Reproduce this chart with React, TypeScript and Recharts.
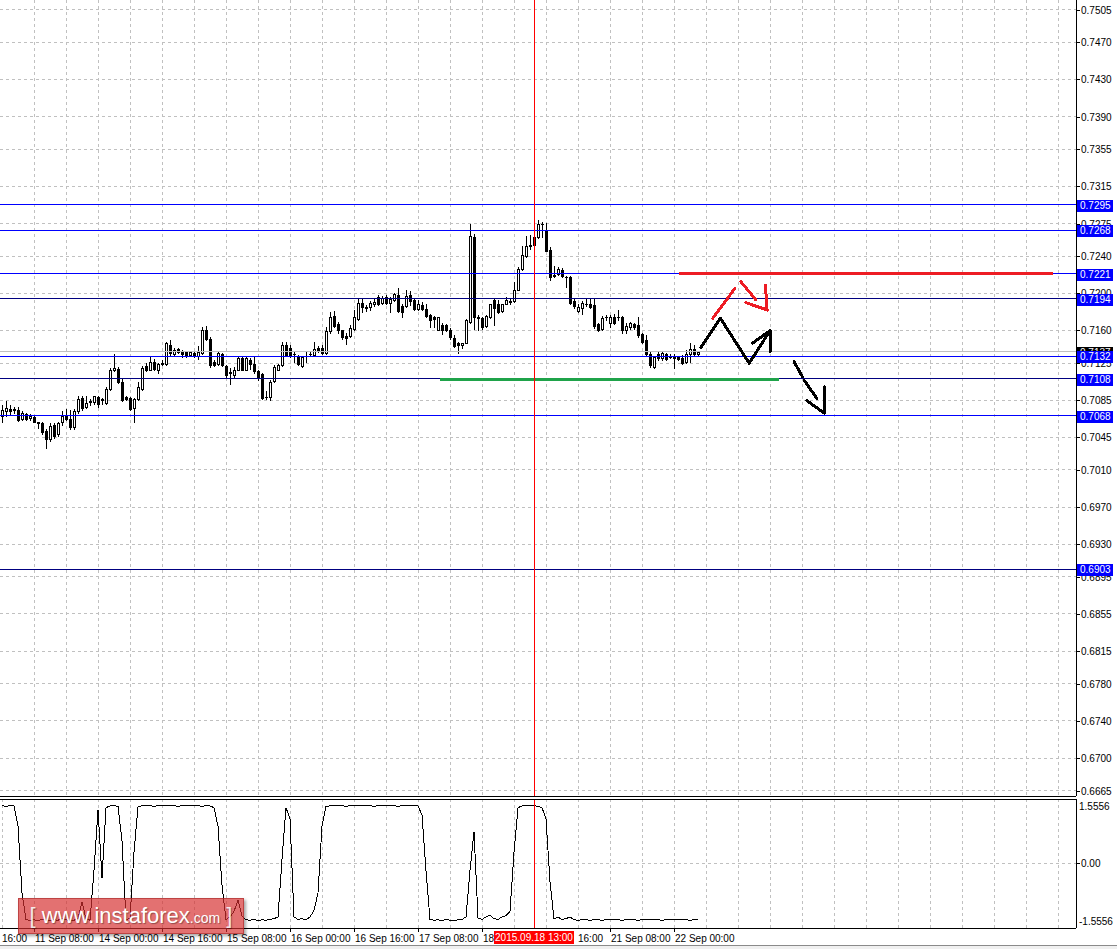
import React from "react";
import { ComposedChart, Bar, Line, XAxis, YAxis, CartesianGrid, ReferenceLine } from "recharts";

const FONT = "Liberation Sans, Arial, sans-serif";

// H1 bars, one per hour, first bar = 10 Sep 23:00 .. last = 22 Sep 06:00
const opens = [
  0.7068, 0.7073, 0.7076, 0.7075, 0.7074, 0.7065, 0.7070, 0.7066, 0.7067, 0.7061,
  0.7060, 0.7052, 0.7043, 0.7058, 0.7049, 0.7061, 0.7069, 0.7065, 0.7056, 0.7073,
  0.7087, 0.7078, 0.7083, 0.7083, 0.7088, 0.7085, 0.7082, 0.7097, 0.7117, 0.7119,
  0.7105, 0.7088, 0.7087, 0.7077, 0.7086, 0.7097, 0.7122, 0.7118, 0.7126, 0.7118,
  0.7124, 0.7124, 0.7144, 0.7135, 0.7140,
  0.7137, 0.7137, 0.7134, 0.7136, 0.7132,
  0.7136, 0.7160, 0.7151, 0.7126, 0.7124, 0.7135, 0.7122, 0.7115, 0.7112, 0.7118,
  0.7130, 0.7118, 0.7128, 0.7124, 0.7116, 0.7113, 0.7088, 0.7088, 0.7106, 0.7118,
  0.7123, 0.7144, 0.7141, 0.7135, 0.7132, 0.7122, 0.7132, 0.7135, 0.7134, 0.7141,
  0.7141, 0.7136, 0.7159, 0.7176, 0.7167, 0.7160, 0.7154, 0.7154,
  0.7162, 0.7172, 0.7190, 0.7185, 0.7185, 0.7188, 0.7196, 0.7190, 0.7196, 0.7190, 0.7193, 0.7198,
  0.7186, 0.7186, 0.7198, 0.7193, 0.7183, 0.7187, 0.7183, 0.7177, 0.7174, 0.7161,
  0.7166, 0.7166, 0.7161, 0.7152, 0.7146, 0.7144, 0.7147, 0.7169, 0.7261, 0.7175,
  0.7173, 0.7165, 0.7175, 0.7193, 0.7188, 0.7181, 0.7189, 0.7191, 0.7192, 0.7204, 0.7226, 0.7240,
  0.7251, 0.7252, 0.7261, 0.7274, 0.7268, 0.7247, 0.7220, 0.7221, 0.7225, 0.7218,
  0.7218, 0.7192, 0.7181, 0.7184, 0.7189, 0.7188, 0.7187, 0.7167,
  0.7162, 0.7174, 0.7168, 0.7175, 0.7174, 0.7175, 0.7161, 0.7164, 0.7167, 0.7166,
  0.7156, 0.7150, 0.7135, 0.7121, 0.7135, 0.7130, 0.7135, 0.7132, 0.7131, 0.7132,
  0.7130, 0.7126, 0.7135, 0.7140, 0.7135,
];
const highs = [
  0.7080, 0.7084, 0.7080, 0.7078, 0.7078, 0.7073, 0.7071, 0.7070, 0.7069, 0.7062,
  0.7062, 0.7054, 0.7060, 0.7060, 0.7062, 0.7073, 0.7075, 0.7074, 0.7075, 0.7090,
  0.7090, 0.7089, 0.7086, 0.7090, 0.7090, 0.7087, 0.7099, 0.7120, 0.7135, 0.7121,
  0.7108, 0.7089, 0.7088, 0.7087, 0.7105, 0.7122, 0.7125, 0.7132, 0.7129, 0.7125,
  0.7128, 0.7148, 0.7150, 0.7141, 0.7141,
  0.7139, 0.7138, 0.7138, 0.7138, 0.7143,
  0.7164, 0.7165, 0.7153, 0.7128, 0.7137, 0.7136, 0.7123, 0.7120, 0.7121, 0.7132,
  0.7132, 0.7132, 0.7130, 0.7132, 0.7118, 0.7114, 0.7095, 0.7107, 0.7123, 0.7124,
  0.7148, 0.7148, 0.7144, 0.7137, 0.7134, 0.7132, 0.7138, 0.7137, 0.7148, 0.7143,
  0.7144, 0.7164, 0.7180, 0.7181, 0.7169, 0.7161, 0.7157, 0.7166,
  0.7182, 0.7194, 0.7194, 0.7187, 0.7192, 0.7194, 0.7198, 0.7197, 0.7198, 0.7196, 0.7200, 0.7206,
  0.7189, 0.7203, 0.7202, 0.7194, 0.7193, 0.7191, 0.7188, 0.7178, 0.7176, 0.7175,
  0.7168, 0.7167, 0.7163, 0.7155, 0.7148, 0.7147, 0.7172, 0.7275, 0.7264, 0.7177,
  0.7175, 0.7177, 0.7189, 0.7194, 0.7193, 0.7189, 0.7196, 0.7194, 0.7212, 0.7228, 0.7251, 0.7262,
  0.7263, 0.7263, 0.7279, 0.7277, 0.7276, 0.7250, 0.7229, 0.7228, 0.7227, 0.7219,
  0.7219, 0.7194, 0.7188, 0.7192, 0.7195, 0.7195, 0.7195, 0.7168,
  0.7176, 0.7177, 0.7177, 0.7178, 0.7182, 0.7176, 0.7168, 0.7169, 0.7168, 0.7175,
  0.7157, 0.7155, 0.7137, 0.7132, 0.7137, 0.7137, 0.7136, 0.7135, 0.7135, 0.7133,
  0.7134, 0.7139, 0.7147, 0.7144, 0.7138,
];
const lows = [
  0.7062, 0.7068, 0.7069, 0.7071, 0.7063, 0.7064, 0.7064, 0.7064, 0.7061, 0.7055,
  0.7049, 0.7034, 0.7041, 0.7044, 0.7047, 0.7058, 0.7064, 0.7054, 0.7054, 0.7071,
  0.7074, 0.7077, 0.7080, 0.7081, 0.7078, 0.7081, 0.7081, 0.7096, 0.7116, 0.7104,
  0.7084, 0.7085, 0.7074, 0.7062, 0.7085, 0.7096, 0.7116, 0.7117, 0.7118, 0.7114,
  0.7123, 0.7123, 0.7134, 0.7134, 0.7136,
  0.7131, 0.7131, 0.7132, 0.7131, 0.7129,
  0.7135, 0.7150, 0.7121, 0.7122, 0.7123, 0.7122, 0.7110, 0.7102, 0.7110, 0.7117,
  0.7117, 0.7117, 0.7119, 0.7114, 0.7107, 0.7086, 0.7086, 0.7085, 0.7105, 0.7117,
  0.7122, 0.7132, 0.7131, 0.7126, 0.7123, 0.7121, 0.7126, 0.7132, 0.7132, 0.7137,
  0.7135, 0.7135, 0.7157, 0.7164, 0.7157, 0.7151, 0.7145, 0.7153,
  0.7161, 0.7171, 0.7180, 0.7181, 0.7182, 0.7186, 0.7187, 0.7188, 0.7188, 0.7180, 0.7192, 0.7180,
  0.7175, 0.7185, 0.7187, 0.7182, 0.7182, 0.7182, 0.7175, 0.7164, 0.7164, 0.7160,
  0.7156, 0.7159, 0.7151, 0.7142, 0.7136, 0.7141, 0.7146, 0.7168, 0.7162, 0.7161,
  0.7162, 0.7164, 0.7173, 0.7166, 0.7179, 0.7180, 0.7188, 0.7189, 0.7191, 0.7203, 0.7225, 0.7239,
  0.7248, 0.7250, 0.7260, 0.7261, 0.7245, 0.7214, 0.7218, 0.7220, 0.7218, 0.7207,
  0.7189, 0.7184, 0.7180, 0.7178, 0.7186, 0.7184, 0.7163, 0.7159,
  0.7161, 0.7171, 0.7164, 0.7167, 0.7171, 0.7157, 0.7157, 0.7162, 0.7162, 0.7153,
  0.7146, 0.7132, 0.7121, 0.7120, 0.7128, 0.7128, 0.7128, 0.7130, 0.7120, 0.7128,
  0.7124, 0.7125, 0.7126, 0.7134, 0.7134,
];
const closes = [
  0.7074, 0.7077, 0.7073, 0.7074, 0.7064, 0.7071, 0.7065, 0.7068, 0.7062, 0.7060,
  0.7051, 0.7043, 0.7057, 0.7047, 0.7060, 0.7068, 0.7065, 0.7056, 0.7073, 0.7086,
  0.7077, 0.7082, 0.7084, 0.7089, 0.7081, 0.7086, 0.7097, 0.7118, 0.7120, 0.7105,
  0.7085, 0.7086, 0.7075, 0.7086, 0.7099, 0.7120, 0.7117, 0.7126, 0.7119, 0.7124,
  0.7125, 0.7146, 0.7136, 0.7139, 0.7137,
  0.7135, 0.7134, 0.7137, 0.7132, 0.7137,
  0.7161, 0.7151, 0.7123, 0.7123, 0.7136, 0.7123, 0.7112, 0.7114, 0.7118, 0.7130,
  0.7118, 0.7130, 0.7124, 0.7116, 0.7109, 0.7087, 0.7088, 0.7105, 0.7121, 0.7123,
  0.7144, 0.7134, 0.7134, 0.7135, 0.7124, 0.7131, 0.7133, 0.7135, 0.7140, 0.7139,
  0.7136, 0.7159, 0.7175, 0.7165, 0.7160, 0.7153, 0.7152, 0.7163,
  0.7174, 0.7190, 0.7185, 0.7184, 0.7190, 0.7191, 0.7189, 0.7195, 0.7190, 0.7194, 0.7199, 0.7181,
  0.7180, 0.7197, 0.7192, 0.7183, 0.7188, 0.7183, 0.7176, 0.7171, 0.7172, 0.7174,
  0.7161, 0.7160, 0.7153, 0.7143, 0.7144, 0.7146, 0.7171, 0.7262, 0.7175, 0.7173,
  0.7164, 0.7176, 0.7188, 0.7184, 0.7180, 0.7188, 0.7193, 0.7192, 0.7204, 0.7226, 0.7241, 0.7251,
  0.7252, 0.7261, 0.7275, 0.7275, 0.7246, 0.7218, 0.7219, 0.7226, 0.7219, 0.7217,
  0.7190, 0.7186, 0.7185, 0.7190, 0.7188, 0.7185, 0.7165, 0.7160,
  0.7173, 0.7175, 0.7174, 0.7168, 0.7175, 0.7161, 0.7165, 0.7168, 0.7164, 0.7155,
  0.7148, 0.7135, 0.7123, 0.7131, 0.7130, 0.7136, 0.7129, 0.7131, 0.7130, 0.7129,
  0.7125, 0.7135, 0.7140, 0.7135, 0.7137,
];

// oscillator in the lower window
const oscValues = [
  1.55, 1.54, 1.55, 1.55, 1.0, -0.8, -1.53, -1.54, -1.53, -1.55,
  -1.52, -1.54, -1.55, -1.53, -1.54, -1.5, -1.53, -1.55, -1.54, -1.5,
  -1.05, -1.5, -1.54, -0.2, 1.45, -0.4, 1.5, 1.55, 1.55, 1.54,
  0.6, -1.52, -1.5, 0.3, 1.53, 1.55, 1.56, 1.55, 1.54, 1.55,
  1.55, 1.56, 1.55, 1.55, 1.54, 1.55, 1.55, 1.55, 1.56, 1.55,
  1.54, 1.55, 1.55, 1.5, 1.0, -0.6, -1.52, -1.45, -1.3, -1.0,
  -1.42, -1.53, -1.54, -1.52, -1.55, -1.53, -1.54, -1.52, -1.5, -1.45,
  0.1, 1.5, 1.2, -1.45, -1.52, -1.5, -1.53, -1.45, -1.28, -0.8,
  1.0, 1.53, 1.55, 1.55, 1.56, 1.55, 1.54, 1.55, 1.55, 1.55,
  1.56, 1.55, 1.55, 1.54, 1.55, 1.55, 1.56, 1.55, 1.55, 1.54,
  1.55, 1.55, 1.55, 1.56, 1.55, 1.3, -0.2, -1.52, -1.54, -1.53,
  -1.55, -1.52, -1.54, -1.55, -1.53, -1.52, -1.45, -0.2, 0.85, -1.48,
  -1.52, -1.45, -1.4, -1.5, -1.52, -1.45, -1.42, -1.3, 0.3, 1.5,
  1.55, 1.56, 1.55, 1.55, 1.54, 1.5, 1.2, -0.5, -1.5, -1.46,
  -1.52, -1.5, -1.45, -1.53, -1.54, -1.53, -1.53, -1.54, -1.53, -1.53,
  -1.54, -1.53, -1.53, -1.52, -1.53, -1.54, -1.53, -1.53, -1.53, -1.54,
  -1.53, -1.53, -1.52, -1.53, -1.53, -1.54, -1.53, -1.53, -1.53, -1.52,
  -1.53, -1.53, -1.54, -1.53, -1.53,
];

const priceTicks = [
  0.7505, 0.747, 0.743, 0.739, 0.7355, 0.7315, 0.7275, 0.724, 0.72, 0.716, 0.7125, 0.7085,
  0.7045, 0.701, 0.697, 0.693, 0.6895, 0.6855, 0.6815, 0.678, 0.674, 0.67, 0.6665,
];
const levelPrices = [0.7295, 0.7268, 0.7221, 0.7194, 0.7132, 0.7108, 0.7068, 0.6903];
const darkLevels = [0.7194, 0.7108, 0.6903];
const bidPrice = 0.7137;
const oscTicks = [1.5556, 0, -1.5556];

// time scale labels (the cursor box hides most of the two around it)
const timeTicks = [0, 8, 24, 40, 56, 72, 88, 104, 120, 136, 152, 168];
const timeLabels = [
  "16:00", "11 Sep 08:00", "14 Sep 00:00", "14 Sep 16:00", "15 Sep 08:00", "16 Sep 00:00",
  "16 Sep 16:00", "17 Sep 08:00", "18", "16:00", "21 Sep 08:00", "22 Sep 00:00",
];
const cursorBar = 133;
const cursorLabel = "2015.09.18 13:00";

// hand drawn objects, points as [bar, price]
const redLevel = [[169.25, 0.7221], [262.75, 0.7221]];
const greenLevel = [[109.5, 0.7107], [194.25, 0.7107]];
const blackMarks = [
  [[174.7, 0.71415], [179.6, 0.71731]],
  [[179.6, 0.71731], [186.8, 0.71247]],
  [[186.8, 0.71247], [192, 0.71598]],
  [[187.6, 0.71462], [192, 0.71598]],
  [[192, 0.71598], [192, 0.71372]],
  [[198, 0.71264], [200.1, 0.71103]],
  [[200.5, 0.71067], [203.7, 0.7087]],
  [[201.2, 0.70845], [205.6, 0.70709]],
  [[205.6, 0.70995], [205.6, 0.70709]],
];
const redMarks = [
  [[177.7, 0.71731], [183.25, 0.72054]],
  [[184.7, 0.72125], [188.5, 0.71928]],
  [[186, 0.71899], [191.3, 0.7182]],
  [[190.9, 0.72089], [191.2, 0.7182]],
];

const gridBars = Array.from({ length: 34 }, (_, k) => k * 8);

const candles = opens.map((o, k) => ({
  i: k, o, h: highs[k], l: lows[k], c: closes[k], range: [lows[k], highs[k]],
}));
const oscRows = oscValues.map((v, k) => ({ i: k, v }));

const BAR_DOMAIN: [number, number] = [-0.5, 268.5];
const PRICE_DOMAIN: [number, number] = [0.66592, 0.75155];
const OSC_DOMAIN: [number, number] = [-1.751, 1.735];
const CURSOR_BOX_HALF = 40;

const Candle = (props: any) => {
  const { x, y, width, height, payload } = props;
  if (!payload || y == null) return null;
  const { o, h, l, c } = payload;
  const top = Math.min(y, y + height);
  const bot = Math.max(y, y + height);
  const toY = (v: number) => top + ((h - v) / (h - l)) * (bot - top);
  const cx = Math.round(x + width / 2);
  const yO = Math.round(toY(o));
  const yC = Math.round(toY(c));
  const bTop = Math.min(yO, yC);
  const bBot = Math.max(yO, yC);
  return (
    <g>
      <line x1={cx + 0.5} x2={cx + 0.5} y1={Math.round(top)} y2={Math.round(bot) + 1} stroke="#000" />
      {bBot - bTop < 1 ? (
        <line x1={cx - 1} x2={cx + 2} y1={bTop + 0.5} y2={bTop + 0.5} stroke="#000" />
      ) : (
        <rect x={cx - 0.5} y={bTop + 0.5} width={2} height={bBot - bTop} fill={c >= o ? "#fff" : "#000"} stroke="#000" />
      )}
    </g>
  );
};

const PriceTick = (props: any) => {
  const { x, y, payload } = props;
  const v = payload.value as number;
  const yy = Math.round(y);
  if (v === bidPrice || levelPrices.includes(v)) {
    return (
      <g>
        <rect x={x + 1} y={yy - 5.5} width={36} height={12} fill={v === bidPrice ? "#000" : "#0000ff"} />
        <text x={x + 4} y={yy + 4} fill="#fff" fontSize={10} fontFamily={FONT}>{v.toFixed(4)}</text>
      </g>
    );
  }
  return (
    <g>
      <line x1={x} x2={x + 4} y1={yy + 0.5} y2={yy + 0.5} stroke="#000" />
      <text x={x + 5} y={yy + 4} fill="#000" fontSize={10} fontFamily={FONT}>{v.toFixed(4)}</text>
    </g>
  );
};

const OscTick = (props: any) => {
  const { x, y, payload } = props;
  const v = payload.value as number;
  const yy = Math.round(y);
  const txt = v === 0 ? "0.00" : v.toFixed(4);
  return (
    <g>
      {v === 0 && <line x1={x} x2={x + 4} y1={yy + 0.5} y2={yy + 0.5} stroke="#000" />}
      <text x={v === 0 ? x + 5 : x + 3} y={yy + 4} fill="#000" fontSize={10} fontFamily={FONT}>{txt}</text>
    </g>
  );
};

const TimeTick = (props: any) => {
  const { x, y, payload } = props;
  const v = payload.value as number;
  const xx = Math.round(x);
  if (v === cursorBar) {
    return (
      <g>
        <rect x={xx - CURSOR_BOX_HALF} y={y + 3} width={CURSOR_BOX_HALF * 2} height={13} fill="#ff0000" />
        <text x={xx} y={y + 13} fill="#fff" fontSize={10} fontFamily={FONT} textAnchor="middle">{cursorLabel}</text>
      </g>
    );
  }
  const label = timeLabels[timeTicks.indexOf(v)];
  // a label whose start lies under the cursor box shows only its tail, right of the box
  const boxLeft = xx - (v - cursorBar) * 4 - CURSOR_BOX_HALF;
  const underBox = v > cursorBar && xx < boxLeft + CURSOR_BOX_HALF * 2;
  const tx = underBox ? boxLeft + CURSOR_BOX_HALF * 2 + 4 : v === 0 ? xx : xx + 1;
  return (
    <g>
      {v !== 0 && !underBox && <line x1={xx + 0.5} x2={xx + 0.5} y1={y} y2={y + 4} stroke="#000" />}
      <text x={tx} y={y + 14} fill="#000" fontSize={10} fontFamily={FONT}>{label}</text>
    </g>
  );
};

const seg = (m: number[][]) => [{ x: m[0][0], y: m[0][1] }, { x: m[1][0], y: m[1][1] }];

export default function App() {
  return (
    <div
      style={{
        position: "absolute", left: 0, top: 0, width: 1117, height: 949, background: "#fff",
        overflow: "hidden", shapeRendering: "crispEdges",
      }}
    >
      <div style={{ position: "absolute", left: 0, top: 0 }}>
        <ComposedChart width={1117} height={797} data={candles} margin={{ top: 0, right: 0, bottom: 1, left: 0 }}>
          <CartesianGrid stroke="#c0c0c0" strokeDasharray="3 3" horizontalValues={priceTicks} verticalValues={gridBars} />
          <XAxis type="number" dataKey="i" domain={BAR_DOMAIN} allowDataOverflow hide />
          <YAxis
            orientation="right" type="number" width={41} domain={PRICE_DOMAIN} allowDataOverflow
            ticks={[...priceTicks, bidPrice, ...levelPrices]} interval={0}
            tickLine={false} tickSize={0} tickMargin={0} axisLine={{ stroke: "#000" }} tick={PriceTick}
          />
          <ReferenceLine y={bidPrice} stroke="#c0c0c0" />
          <Bar dataKey="range" barSize={4} shape={Candle} isAnimationActive={false} />
          {levelPrices.map((p) => (
            <ReferenceLine key={p} y={p} stroke={darkLevels.includes(p) ? "#000080" : "#0000ff"} />
          ))}
          <ReferenceLine segment={seg(greenLevel)} stroke="#1fa34a" strokeWidth={3} />
          <ReferenceLine segment={seg(redLevel)} stroke="#ed1c24" strokeWidth={3} />
          {blackMarks.map((m, k) => (
            <ReferenceLine key={"b" + k} segment={seg(m)} stroke="#000" strokeWidth={3} strokeLinecap="round" />
          ))}
          {redMarks.map((m, k) => (
            <ReferenceLine key={"r" + k} segment={seg(m)} stroke="#ed1c24" strokeWidth={3} strokeLinecap="round" />
          ))}
          <ReferenceLine x={cursorBar} stroke="#ff0000" />
          <ReferenceLine y={PRICE_DOMAIN[0]} stroke="#000" />
        </ComposedChart>
      </div>

      <div style={{ position: "absolute", left: 0, top: 797 }}>
        <ComposedChart width={1117} height={152} data={oscRows} margin={{ top: 2, right: 0, bottom: 0, left: 0 }}>
          <CartesianGrid stroke="#c0c0c0" strokeDasharray="3 3" horizontalValues={[0]} verticalValues={gridBars} />
          <XAxis
            type="number" dataKey="i" domain={BAR_DOMAIN} allowDataOverflow height={21}
            ticks={[...timeTicks, cursorBar]} interval={0}
            tickLine={false} tickSize={0} tickMargin={0} axisLine={{ stroke: "#000" }} tick={TimeTick}
          />
          <YAxis
            orientation="right" type="number" width={41} domain={OSC_DOMAIN} allowDataOverflow
            ticks={oscTicks} interval={0}
            tickLine={false} tickSize={0} tickMargin={0} axisLine={{ stroke: "#000" }} tick={OscTick}
          />
          <Line dataKey="v" type="linear" stroke="#000" strokeWidth={1} dot={false} isAnimationActive={false} />
          <ReferenceLine x={cursorBar} stroke="#ff0000" />
          <ReferenceLine y={OSC_DOMAIN[1]} stroke="#000" />
        </ComposedChart>
      </div>

      <div
        style={{
          position: "absolute", left: 18, top: 898, width: 224, height: 34, lineHeight: "34px",
          background: "rgba(214,45,45,0.68)", border: "1px solid rgba(160,30,30,0.55)",
          boxShadow: "2px 2px 3px rgba(0,0,0,0.35)", color: "#fff", fontFamily: FONT,
          textAlign: "center", whiteSpace: "nowrap", textShadow: "1px 1px 1px rgba(0,0,0,0.35)",
        }}
      >
        <span style={{ fontSize: 22, color: "rgba(255,255,255,0.85)" }}>[ </span>
        <span style={{ fontSize: 22 }}>www.instaforex</span>
        <span style={{ fontSize: 14 }}>.com</span>
        <span style={{ fontSize: 22, color: "rgba(255,255,255,0.85)" }}> ]</span>
      </div>

      <div
        style={{
          position: "absolute", left: 0, top: 945, width: 1117, height: 4,
          background: "#f0f0f0", borderTop: "1px solid #8a8a8a",
        }}
      />
    </div>
  );
}
